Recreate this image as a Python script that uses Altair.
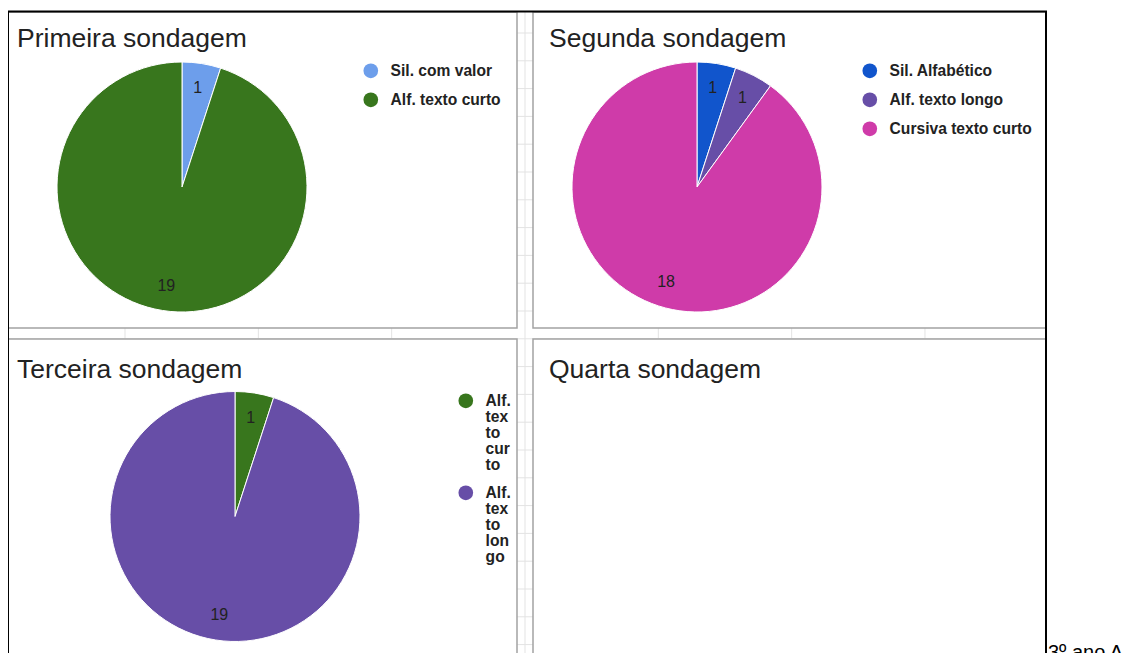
import altair as alt
import pandas as pd

# ---------------- data ----------------
titles = ["Primeira sondagem", "Segunda sondagem", "Terceira sondagem", "Quarta sondagem"]

p1_labels = ["Sil. com valor", "Alf. texto curto"]
p1_values = [1, 19]

p2_labels = ["Sil. Alfabético", "Alf. texto longo", "Cursiva texto curto"]
p2_values = [1, 1, 18]

p3_labels = ["Alf. texto curto", "Alf. texto longo"]
p3_values = [1, 19]
# legend text of the third chart, wrapped as in the original
p3_wrapped = {
    "Alf. texto curto": ["Alf.", "tex", "to", "cur", "to"],
    "Alf. texto longo": ["Alf.", "tex", "to", "lon", "go"],
}

side_note = "3º ano A"

# ---------------- styles ----------------
p1_colors = ["#6d9eeb", "#38761d"]
p2_colors = ["#1155cc", "#674ea7", "#cf3ba9"]
p3_colors = ["#38761d", "#674ea7"]

W, H = 1123, 645
FONT = "Liberation Sans"
TXT = "#222222"


def frame(labels, values):
    return pd.DataFrame({"cat": labels, "val": values, "ord": list(range(len(labels)))})


def legend(lx, ly, rp=12, **kw):
    return alt.Legend(
        title=None, orient="none", legendX=lx, legendY=ly,
        symbolType="circle", symbolSize=215, symbolStrokeWidth=0, symbolOpacity=1,
        labelFont=FONT, labelFontSize=15.6, labelFontWeight="bold", labelColor=TXT,
        labelOffset=12, rowPadding=rp, labelLimit=400, **kw,
    )


def pie(labels, values, colors, cx, cy, leg):
    df = frame(labels, values)
    theta = alt.Theta("val:Q", stack=True)
    order = alt.Order("ord:Q")
    arc = alt.Chart(df).mark_arc(
        outerRadius=125, x=cx, y=cy, stroke="white", strokeWidth=1
    ).encode(
        theta=theta, order=order,
        color=alt.Color("cat:N", scale=alt.Scale(domain=labels, range=colors), legend=leg),
    )
    txt = alt.Chart(df).mark_text(
        radius=100, x=cx, y=cy, fontSize=16, font=FONT, color=TXT,
        align="center", baseline="middle",
    ).encode(theta=theta, order=order, detail="cat:N", text="val:Q")
    return alt.layer(arc, txt)


def label(text, x, y, size=26.5, color=TXT):
    return alt.Chart(pd.DataFrame({"t": [text]})).mark_text(
        align="left", baseline="alphabetic", fontSize=size, font=FONT, color=color
    ).encode(x=alt.value(x), y=alt.value(y), text="t:N")


def box(x, x2, y, y2, fill, stroke, sw):
    return alt.Chart(pd.DataFrame({"a": [0]})).mark_rect(
        fill=fill, stroke=stroke, strokeWidth=sw
    ).encode(x=alt.value(x), x2=alt.value(x2), y=alt.value(y), y2=alt.value(y2))


# spreadsheet grid behind the charts
vgrid = alt.Chart(alt.sequence(0, 7, as_="i")).transform_calculate(
    x="117 + datum.i * 133.33"
).mark_rule(color="#e3e3e3", strokeWidth=1).encode(
    x=alt.X("x:Q", scale=None, axis=None), y=alt.value(4), y2=alt.value(H)
)
hgrid = alt.Chart(alt.sequence(0, 23, as_="i")).transform_calculate(
    y="25 + datum.i * 27.8"
).mark_rule(color="#e3e3e3", strokeWidth=1).encode(
    y=alt.Y("y:Q", scale=None, axis=None), x=alt.value(0), x2=alt.value(1038)
)

panels = [
    box(0, 509, 4, 320, "white", "#a3a3a3", 1.5),
    box(525, 1038, 4, 320, "white", "#a3a3a3", 1.5),
    box(0, 509, 331, 700, "white", "#a3a3a3", 1.5),
    box(525, 1038, 331, 700, "white", "#a3a3a3", 1.5),
]
outer = box(0, 1038, 3.5, 720, "transparent", "black", 2)

p3_expr = " : ".join(
    [f"datum.label == '{k}' ? {v}" for k, v in list(p3_wrapped.items())[:-1]]
    + [str(list(p3_wrapped.values())[-1])]
)

pie1 = pie(p1_labels, p1_values, p1_colors, 174, 179, legend(355, 55))
pie2 = pie(p2_labels, p2_values, p2_colors, 689, 179, legend(854, 55))
pie3 = pie(p3_labels, p3_values, p3_colors, 227, 508.5,
           legend(450, 385, rp=11, labelExpr=p3_expr, labelBaseline="middle"))

chart = alt.layer(
    vgrid, hgrid, *panels, outer,
    label(titles[0], 9, 39), label(titles[1], 541, 39),
    label(titles[2], 9, 370), label(titles[3], 541, 370),
    pie1, pie2, pie3,
    label(side_note, 1040, 651, size=20, color="black"),
).resolve_scale(
    theta="independent", color="independent"
).properties(
    width=W, height=H, padding=0,
    autosize=alt.AutoSizeParams(type="none"),
    background="white",
).configure(
    style={"guide-label": {"lineHeight": 16}}
).configure_view(stroke=None)

chart.save("out.html", embed_options={"renderer": "svg", "actions": False})
